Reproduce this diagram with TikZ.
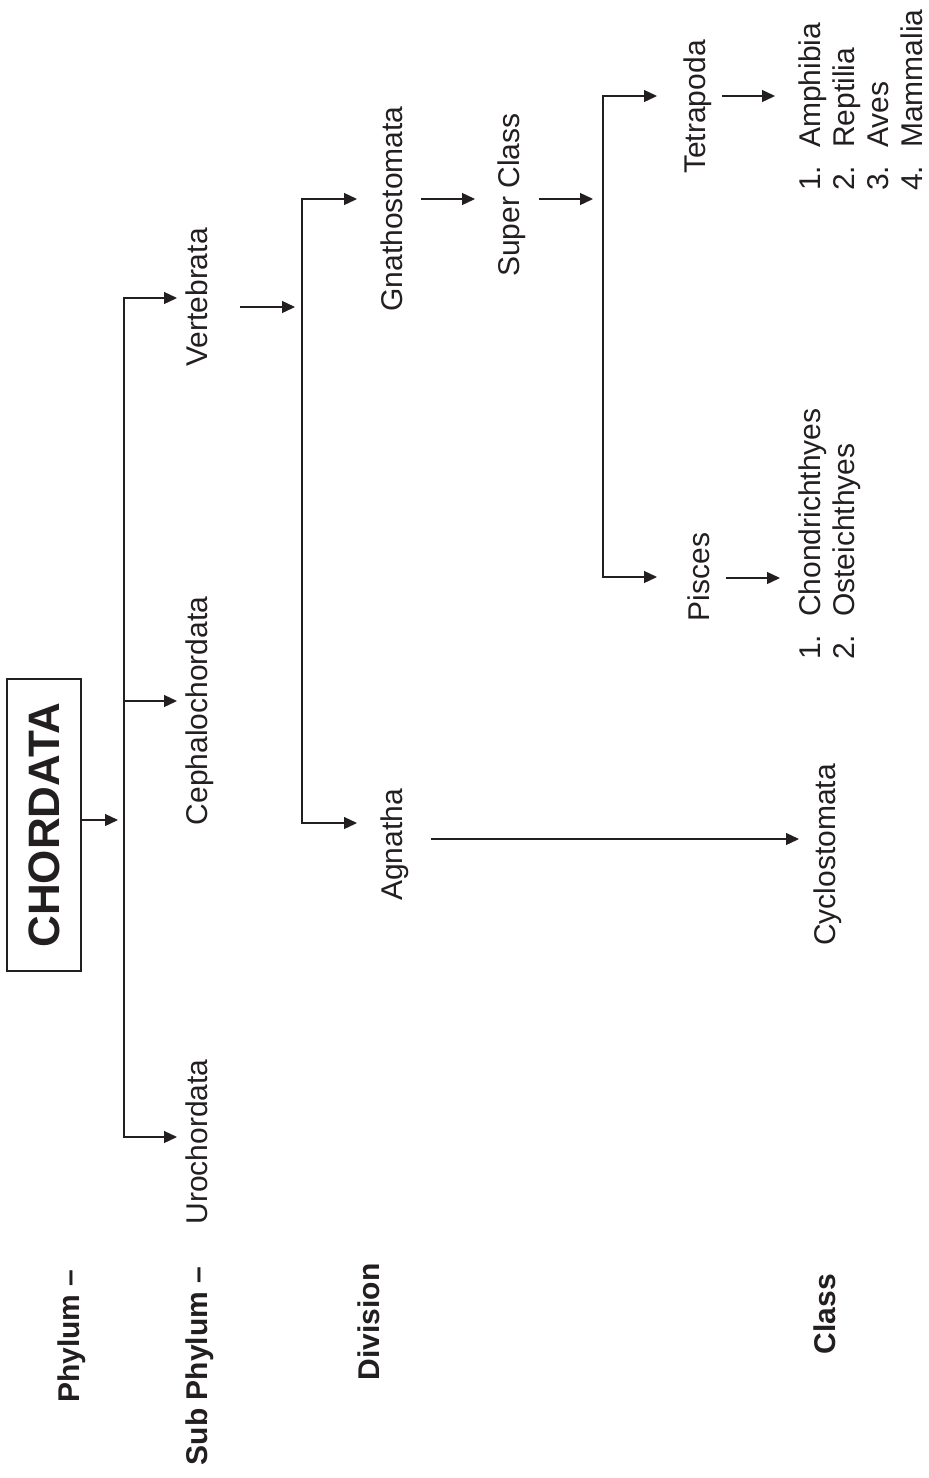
\documentclass[tikz,border=0pt]{standalone}
\usepackage{fontspec}
\setmainfont{Liberation Sans}
\usetikzlibrary{arrows.meta}
\definecolor{ink}{RGB}{35,31,32}
\begin{document}
\begin{tikzpicture}[x=1pt,y=-1pt,
  lbl/.style={rotate=90,anchor=base,inner sep=0pt,text=ink,font=\fontsize{30}{34.3}\selectfont},
  hdr/.style={rotate=90,anchor=base,inner sep=0pt,text=ink,font=\fontsize{30}{34.3}\selectfont\bfseries},
  lst/.style={rotate=90,anchor=base west,inner sep=0pt,text=ink,font=\fontsize{30}{34.3}\selectfont},
  conn/.style={draw=ink,line width=1.3pt},
  arr/.style={conn,-{Triangle[length=13pt,width=12pt]}}]
\useasboundingbox (0,0) rectangle (929,1478);

% level labels
\node[hdr] (phylum) at (79,1336) {Phylum --};
\node[hdr] (subph) at (207,1366) {Sub Phylum --};
\node[hdr] (divis) at (379,1322) {Division};
\node[hdr] (klass) at (835,1314) {Class};

% phylum box
\node[rotate=90,draw=ink,line width=1.3pt,minimum width=292pt,minimum height=74pt,
      inner sep=0pt,text=ink,font=\fontsize{44}{50}\selectfont\bfseries] (chord) at (44,825) {CHORDATA};

% taxa
\node[lbl] (verte) at (207,297.5) {Vertebrata};
\node[lbl] (cepha) at (207,711) {Cephalochordata};
\node[lbl] (uro) at (207,1142) {Urochordata};
\node[lbl] (gnath) at (402,209) {Gnathostomata};
\node[lbl] (agna) at (402,845) {Agnatha};
\node[lbl] (super) at (519,195) {Super Class};
\node[lbl] (tetra) at (705,107) {Tetrapoda};
\node[lbl] (pisces) at (709,577) {Pisces};
\node[lbl] (cyclo) at (835,855) {Cyclostomata};

\node[lst] (tlist) at (820,191) {\begin{tabular}[t]{@{}l@{}}
\makebox[43pt][l]{1.}Amphibia\\
\makebox[43pt][l]{2.}Reptilia\\
\makebox[43pt][l]{3.}Aves\\
\makebox[43pt][l]{4.}Mammalia
\end{tabular}};
\node[lst] (plist) at (820,660) {\begin{tabular}[t]{@{}l@{}}
\makebox[43pt][l]{1.}Chondrichthyes\\
\makebox[43pt][l]{2.}Osteichthyes
\end{tabular}};

% connector points
\coordinate (j1) at (124,820);
\coordinate (tV) at (177,298);
\coordinate (tC) at (177,701);
\coordinate (tU) at (177,1137);
\coordinate (sV) at (240,307);
\coordinate (j2) at (302,307);
\coordinate (tG) at (357,199);
\coordinate (tA) at (357,823);
\coordinate (sG) at (421,199);
\coordinate (tS) at (475,199);
\coordinate (sS) at (539,199);
\coordinate (j3) at (603,199);
\coordinate (tT) at (657,96);
\coordinate (tP) at (657,577);
\coordinate (sT) at (722,96);
\coordinate (tTl) at (775,96);
\coordinate (sP) at (726,578);
\coordinate (tPl) at (780,578);
\coordinate (sA) at (431,839);
\coordinate (tCy) at (799,839);

% connectors
\draw[arr] (chord.south |- 0,820) -- (118,820);
\draw[arr] (j1) |- (tV);
\draw[arr] (j1) |- (tU);
\draw[arr] (j1 |- tC) -- (tC);
\draw[arr] (sV) -- (j2 -| 295,0);
\draw[arr] (j2) |- (tG);
\draw[arr] (j2) |- (tA);
\draw[arr] (sG) -- (tS);
\draw[arr] (sS) -- (593,199);
\draw[arr] (j3) |- (tT);
\draw[arr] (j3) |- (tP);
\draw[arr] (sT) -- (tTl);
\draw[arr] (sP) -- (tPl);
\draw[arr] (sA) -- (tCy);
\end{tikzpicture}
\end{document}
